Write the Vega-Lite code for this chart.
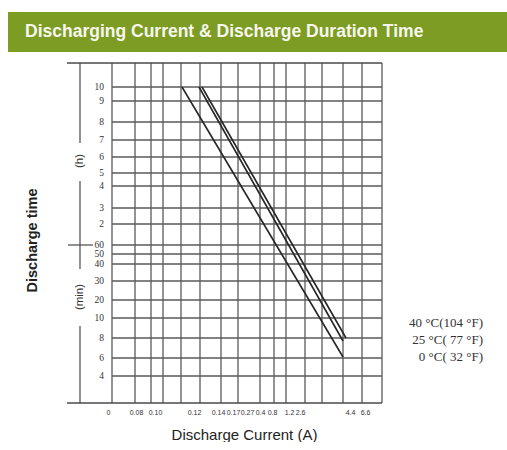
{
  "$schema": "https://vega.github.io/schema/vega-lite/v6.json",
  "autosize": {"type": "pad"},
  "padding": {"left": 8, "top": 12, "right": 0, "bottom": 0},
  "background": "#ffffff",
  "spacing": 11,
  "bounds": "flush",
  "config": {"view": {"stroke": null}, "axis": {"labelOverlap": false}},
  "datasets": {
    "vgrid": [{"x": 0}, {"x": 23}, {"x": 39}, {"x": 51}, {"x": 69}, {"x": 88}, {"x": 109}, {"x": 126}, {"x": 148}, {"x": 162}, {"x": 174}, {"x": 193}, {"x": 210}, {"x": 231}, {"x": 250}, {"x": 270}],
    "hgrid": [
      {"y": 316, "label": "10"}, {"y": 302, "label": "9"}, {"y": 281, "label": "8"}, {"y": 263, "label": "7"},
      {"y": 246, "label": "6"}, {"y": 230, "label": "5"}, {"y": 217, "label": "4"}, {"y": 195, "label": "3"},
      {"y": 179, "label": "2"}, {"y": 158, "label": "60"}, {"y": 149, "label": "50"}, {"y": 139, "label": "40"},
      {"y": 122, "label": "30"}, {"y": 103, "label": "20"}, {"y": 85, "label": "10"}, {"y": 65, "label": "8"},
      {"y": 45, "label": "6"}, {"y": 27, "label": "4"}
    ],
    "border": [{"y": 340}, {"y": 0}],
    "bracket": [{"y": 340, "y2": 260}, {"y": 222, "y2": 134}, {"y": 77, "y2": 0}],
    "bracketTick": [{"y": 158}],
    "bracketLabels": [{"t": "(h)", "y": 242}, {"t": "(min)", "y": 106}],
    "curves": [
      {"s": "0 °C", "x": 70, "y": 316}, {"s": "0 °C", "x": 231, "y": 46},
      {"s": "25 °C", "x": 87, "y": 316}, {"s": "25 °C", "x": 231, "y": 62},
      {"s": "40 °C", "x": 90, "y": 316}, {"s": "40 °C", "x": 234, "y": 65}
    ],
    "tempLabels": [{"t": "40 °C(104 °F)", "y": 80}, {"t": "25 °C(  77 °F)", "y": 63}, {"t": "0 °C(  32 °F)", "y": 46}]
  },
  "vconcat": [
    {
      "width": 499,
      "height": 40,
      "view": {"fill": "#7c9c24", "stroke": null},
      "data": {"values": [{"t": "Discharging Current & Discharge Duration Time"}]},
      "mark": {"type": "text", "align": "left", "baseline": "middle", "dx": 17, "color": "#f7f7ee", "font": "Liberation Sans", "fontSize": 17.5, "fontWeight": "bold"},
      "encoding": {
        "text": {"field": "t"},
        "x": {"datum": 0, "type": "quantitative", "scale": {"domain": [0, 1]}, "axis": null}
      }
    },
    {
      "width": 499,
      "height": 340,
      "layer": [
        {
          "data": {"name": "hgrid"},
          "mark": {"type": "rule", "color": "#5a5a5a", "strokeWidth": 1.3},
          "encoding": {
            "y": {"field": "y", "type": "quantitative", "scale": {"domain": [0, 340], "nice": false, "zero": false},
              "axis": {
                "orient": "left", "offset": -104, "values": [170],
                "domain": false, "ticks": false, "grid": false, "labels": false,
                "title": "Discharge time", "titleFont": "Liberation Sans", "titleFontSize": 14.5, "titleFontWeight": "bold",
                "titleColor": "#222222", "titleX": -80, "titleY": 177, "titleAngle": 270, "titleAlign": "center", "titleBaseline": "middle"
              }},
            "x": {"datum": 0, "type": "quantitative", "scale": {"domain": [-104, 395], "nice": false, "zero": false}},
            "x2": {"datum": 270}
          }
        },
        {
          "data": {"name": "vgrid"},
          "mark": {"type": "rule", "color": "#5a5a5a", "strokeWidth": 1.3},
          "encoding": {
            "x": {"field": "x", "type": "quantitative", "scale": {"domain": [-104, 395], "nice": false, "zero": false},
              "axis": {
                "values": [-4, 24, 43, 82, 106, 121, 135, 148, 160, 177, 188, 238, 253],
                "labelExpr": "['0','0.08','0.10','0.12','0.14','0.17','0.27','0.4','0.8','1.2','2.6','4.4','6.6'][indexof([-4,24,43,82,106,121,135,148,160,177,188,238,253], datum.value)]",
                "domain": false, "ticks": false, "grid": false,
                "labelFont": "Liberation Sans", "labelFontSize": 7, "labelColor": "#333333", "labelPadding": 5,
                "labelOverlap": false, "labelFlush": false,
                "title": "Discharge Current (A)", "titleFont": "Liberation Sans", "titleFontSize": 15, "titleFontWeight": "normal",
                "titleColor": "#222222", "titleX": 236, "titlePadding": 12
              }},
            "y": {"datum": 0, "type": "quantitative", "scale": {"domain": [0, 340], "nice": false, "zero": false}},
            "y2": {"datum": 340}
          }
        },
        {
          "data": {"name": "hgrid"},
          "mark": {"type": "text", "align": "right", "baseline": "middle", "font": "Liberation Serif", "fontSize": 9.5, "color": "#333333"},
          "encoding": {
            "text": {"field": "label"},
            "y": {"field": "y", "type": "quantitative", "scale": {"domain": [0, 340], "nice": false, "zero": false}},
            "x": {"datum": -8, "type": "quantitative", "scale": {"domain": [-104, 395], "nice": false, "zero": false}}
          }
        },
        {
          "data": {"name": "border"},
          "mark": {"type": "rule", "color": "#4a4a4a", "strokeWidth": 1.5},
          "encoding": {
            "y": {"field": "y", "type": "quantitative", "scale": {"domain": [0, 340], "nice": false, "zero": false}},
            "x": {"datum": -45, "type": "quantitative", "scale": {"domain": [-104, 395], "nice": false, "zero": false}},
            "x2": {"datum": 270}
          }
        },
        {
          "data": {"name": "bracket"},
          "mark": {"type": "rule", "color": "#4a4a4a", "strokeWidth": 1.2},
          "encoding": {
            "y": {"field": "y", "type": "quantitative", "scale": {"domain": [0, 340], "nice": false, "zero": false}},
            "y2": {"field": "y2"},
            "x": {"datum": -32, "type": "quantitative", "scale": {"domain": [-104, 395], "nice": false, "zero": false}}
          }
        },
        {
          "data": {"name": "bracketTick"},
          "mark": {"type": "rule", "color": "#4a4a4a", "strokeWidth": 1.2},
          "encoding": {
            "y": {"field": "y", "type": "quantitative", "scale": {"domain": [0, 340], "nice": false, "zero": false}},
            "x": {"datum": -44, "type": "quantitative", "scale": {"domain": [-104, 395], "nice": false, "zero": false}},
            "x2": {"datum": -19}
          }
        },
        {
          "data": {"name": "bracketLabels"},
          "mark": {"type": "text", "angle": 270, "align": "center", "baseline": "middle", "font": "Liberation Sans", "fontSize": 11.5, "color": "#333333"},
          "encoding": {
            "text": {"field": "t"},
            "y": {"field": "y", "type": "quantitative", "scale": {"domain": [0, 340], "nice": false, "zero": false}},
            "x": {"datum": -32, "type": "quantitative", "scale": {"domain": [-104, 395], "nice": false, "zero": false}}
          }
        },
        {
          "data": {"name": "curves"},
          "mark": {"type": "line", "color": "#262626", "strokeWidth": 1.6},
          "encoding": {
            "detail": {"field": "s"},
            "x": {"field": "x", "type": "quantitative", "scale": {"domain": [-104, 395], "nice": false, "zero": false}},
            "y": {"field": "y", "type": "quantitative", "scale": {"domain": [0, 340], "nice": false, "zero": false}}
          }
        },
        {
          "data": {"name": "tempLabels"},
          "mark": {"type": "text", "align": "right", "baseline": "middle", "font": "Liberation Serif", "fontSize": 13, "color": "#333333"},
          "encoding": {
            "text": {"field": "t"},
            "y": {"field": "y", "type": "quantitative", "scale": {"domain": [0, 340], "nice": false, "zero": false}},
            "x": {"datum": 371, "type": "quantitative", "scale": {"domain": [-104, 395], "nice": false, "zero": false}}
          }
        }
      ]
    }
  ]
}
